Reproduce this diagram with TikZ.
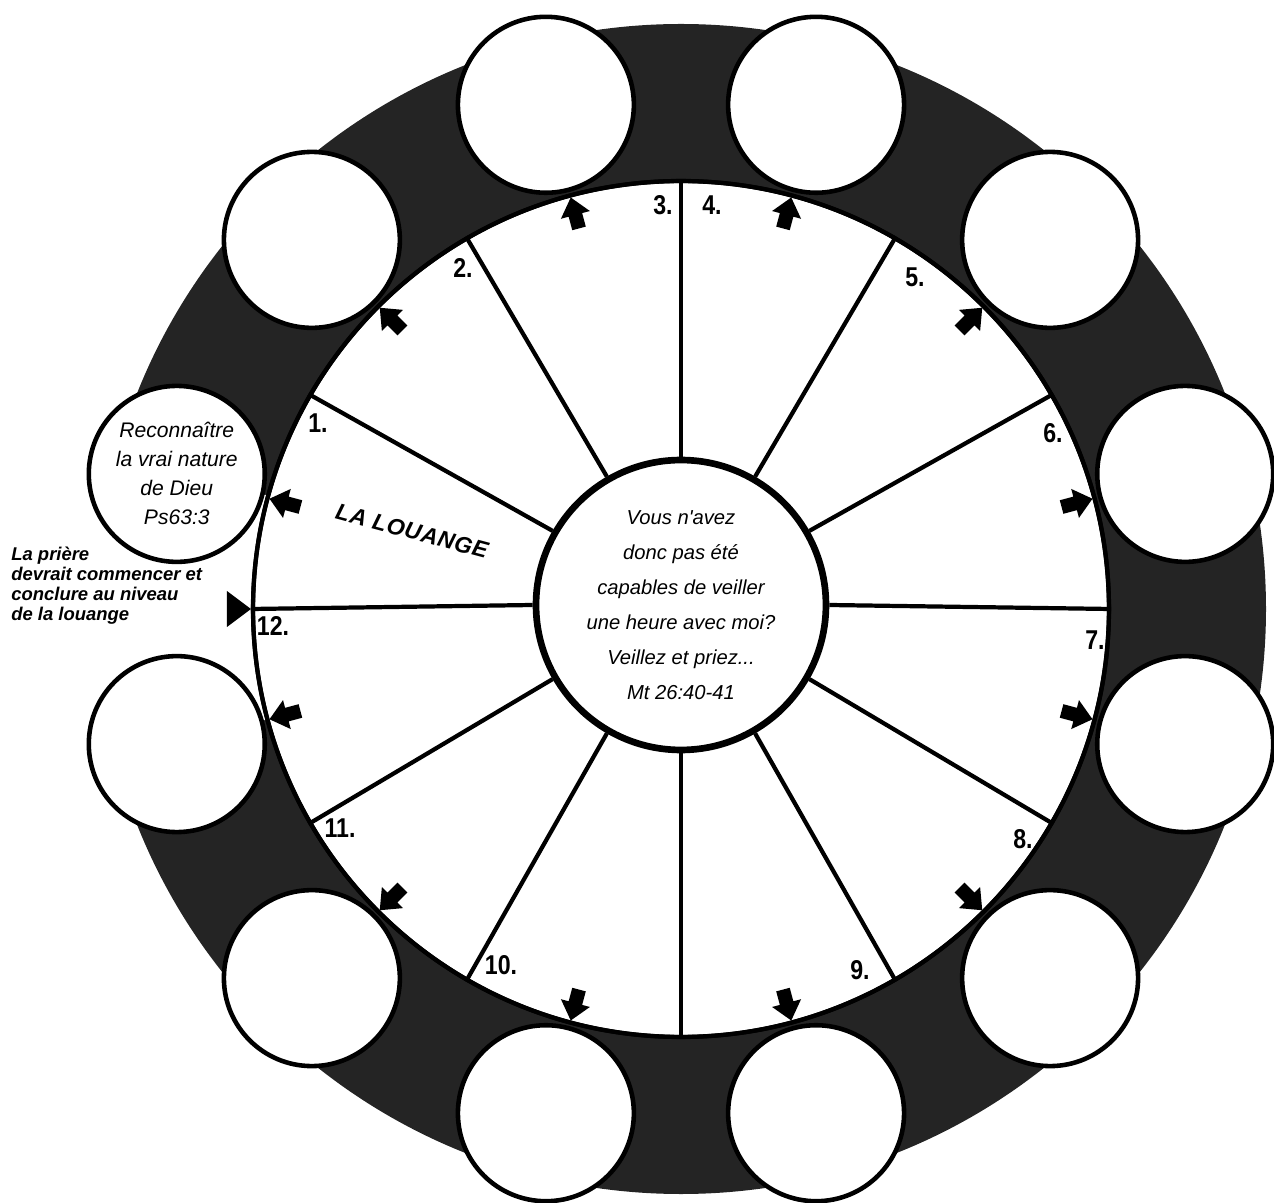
\documentclass[tikz,border=0pt]{standalone}
\usepackage{fontspec}
\setmainfont{Liberation Sans}
\usepackage{graphicx}
\begin{document}
\begin{tikzpicture}[x=0.02cm,y=0.02cm,
  ringfill/.style={fill=black!86},
  outc/.style={circle, draw=black, line width=2.6pt, fill=white, minimum size=3.52cm, inner sep=0pt},
  rim/.style={circle, draw=black, line width=2.4pt, fill=white, minimum size=17.12cm, inner sep=0pt},
  hub/.style={circle, draw=black, line width=3.8pt, fill=white, minimum size=5.8cm, inner sep=0pt},
  spoke/.style={line width=2.4pt},
  num/.style={font=\bfseries\fontsize{15.5}{15.5}\selectfont, inner sep=0pt},
  itext/.style={font=\itshape\fontsize{12}{16.5}\selectfont, align=center},
  marker/.style={fill=black}
]
\useasboundingbox (-681,-594) rectangle (593,609);
% dark ring
\fill[ringfill] (0,0) circle (585);
% white area behind the side note
\fill[white] (-681,114) -- (-381,114) -- (-381,-111) -- (-500,-111) -- (-500,-135) -- (-681,-135) -- cycle;
% inner white disc
\node[rim] (inner) at (0,0) {};
% outer circles
\foreach \a/\n in {15/a,45/b,75/c,105/d,135/e,195/g,225/h,255/i,285/j,315/k,345/l}
  \node[outc] (c\n) at (\a:522) {};
\node[outc, itext] (cf) at (165:522) {Reconnaître\\la vrai nature\\de Dieu\\Ps63:3};
% redraw inner outline on top
\draw[line width=2.4pt] (0,0) circle (428);
% hub
\node[hub, font=\itshape\fontsize{11.5}{20}\selectfont, align=center] (hub) at (0,4)
  {Vous n\textquotesingle avez\\donc pas été\\capables de veiller\\une heure avec moi?\\Veillez et priez...\\Mt 26:40-41};
% spokes
\foreach \a in {0,30,...,330}
  \draw[spoke] (hub.\a) -- (inner.\a);
% arrows pointing outward
\foreach \a in {15,45,...,345}
  \fill[marker, rotate=\a] (426,0) -- (408,15) -- (408,7) -- (394,7) -- (394,-7) -- (408,-7) -- (408,-15) -- cycle;
% arrow at the side note
\coordinate (tipL) at (inner.180);
\fill[marker] (tipL) -- ++(-24,18) -- ++(0,-36) -- cycle;
% numbers
\node[num] (n1) at (-363,186) {\scalebox{0.85}[1]{1.}};
\node[num] (n2) at (-218,341) {\scalebox{0.85}[1]{2.}};
\node[num] (n3) at (-18,404) {\scalebox{0.85}[1]{3.}};
\node[num] (n4) at (31,404) {\scalebox{0.85}[1]{4.}};
\node[num] (n5) at (234,332) {\scalebox{0.85}[1]{5.}};
\node[num] (n6) at (372,176) {\scalebox{0.85}[1]{6.}};
\node[num] (n7) at (414,-31) {\scalebox{0.85}[1]{7.}};
\node[num] (n8) at (342,-230) {\scalebox{0.85}[1]{8.}};
\node[num] (n9) at (179,-361) {\scalebox{0.85}[1]{9.}};
\node[num] (n10) at (-180,-356) {\scalebox{0.85}[1]{10.}};
\node[num] (n11) at (-341,-219) {\scalebox{0.85}[1]{11.}};
\node[num] (n12) at (-408,-17) {\scalebox{0.85}[1]{12.}};
% LA LOUANGE
\node[rotate=-15, inner sep=0pt, font=\bfseries\itshape\fontsize{13}{14}\selectfont\addfontfeatures{LetterSpace=3}] (lou) at (-269,78) {LA LOUANGE};
% side note
\node[anchor=north west, align=left, inner sep=0pt, font=\bfseries\itshape\fontsize{10.5}{11.4}\selectfont] (note) at (-670,62)
  {La prière\\devrait commencer et\\conclure au niveau\\de la louange};
\end{tikzpicture}
\end{document}
